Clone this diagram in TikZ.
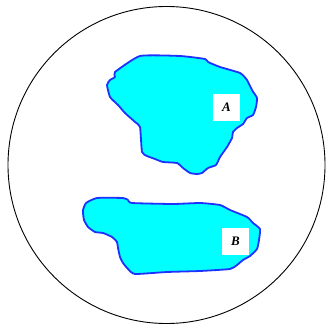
\documentclass[tikz,border=0pt]{standalone}
\usepackage{fontspec}
\setmainfont{Liberation Serif}
\definecolor{blobfill}{RGB}{0,255,255}
\definecolor{blobline}{RGB}{30,50,255}
\tikzset{
  blob/.style={fill=blobfill, draw=blobline, line width=1.8pt, line join=round},
  lbl/.style={fill=white, minimum width=27pt, minimum height=27pt, inner sep=0pt, font=\fontsize{13}{15}\selectfont\bfseries\itshape}
}
\begin{document}
\begin{tikzpicture}[x=1pt,y=-1pt]
\useasboundingbox (0,0) rectangle (325,328);
\draw[black, line width=0.9pt] (166.5,165) circle (158.5);
% blob A
\draw[blob] plot[smooth cycle, tension=0.3] coordinates {
(115,72) (140,56) (180,56) (205,59) (208,62) (220,67) (240,73) (247,80)
(252,90) (257,98) (256,107) (253,115) (247,118) (243,124) (237,128) (233,132)
(232,138) (227,147) (220,157) (216,165) (208,168) (202,173) (197,174) (190,173)
(183,168) (177,163) (163,162) (155,159) (147,156) (142,152) (140,127) (135,122)
(125,113) (118,105) (110,97) (107,85) (110,80) (115,77)};
% blob B
\draw[blob] plot[smooth cycle, tension=0.3] coordinates {
(83,210) (86,203) (97,198) (123,198) (128,200) (132,203) (173,204) (200,203)
(220,205) (230,210) (247,217) (253,223) (260,229) (259,240) (257,249) (250,256)
(243,260) (237,265) (230,269) (200,271) (167,272) (135,274) (128,269) (123,263)
(120,257) (118,248) (117,242) (112,237) (103,233) (95,232) (88,227) (84,220) (83,213)};
\node[lbl] (A) at (226.5,107.5) {A};
\node[lbl] (B) at (235.5,241.5) {B};
\end{tikzpicture}
\end{document}
